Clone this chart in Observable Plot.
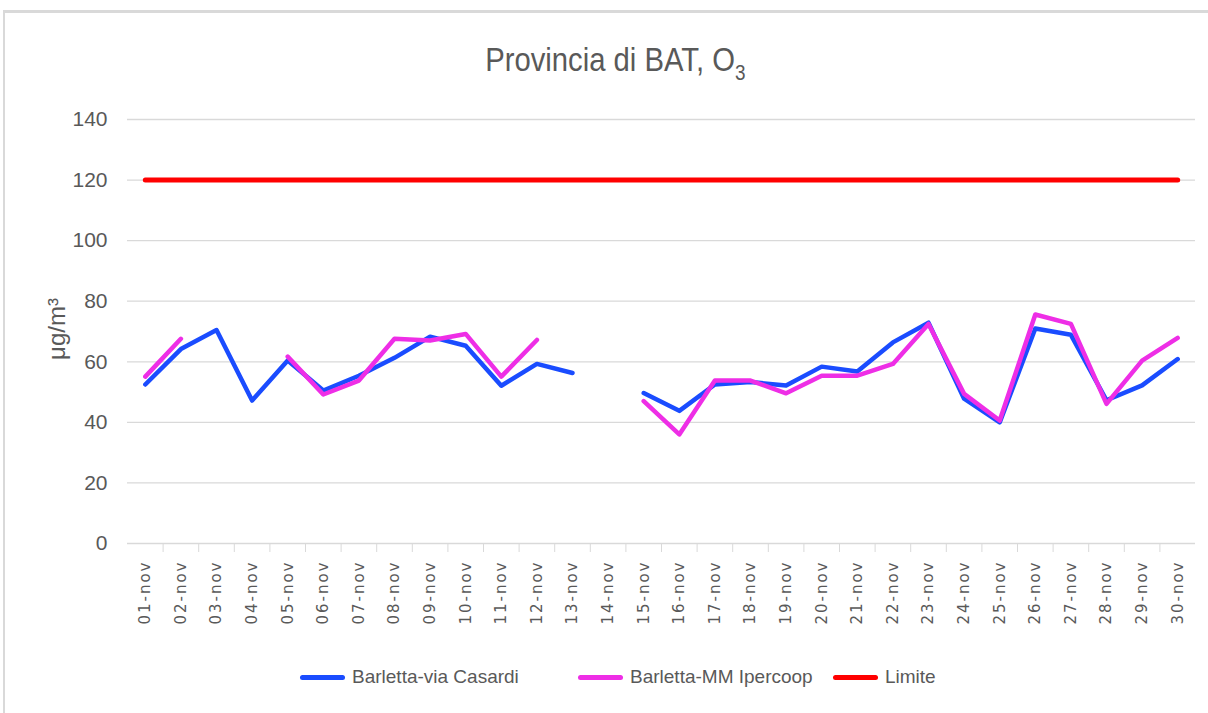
<!DOCTYPE html>
<html>
<head>
<meta charset="utf-8">
<script src="https://cdn.jsdelivr.net/npm/d3@7"></script>
<script src="https://cdn.jsdelivr.net/npm/@observablehq/plot@0.6"></script>
<style>
  html, body { margin: 0; padding: 0; background: #fff; }
  body { width: 1208px; height: 713px; position: relative; overflow: hidden; font-family: "Liberation Sans", sans-serif; }
  #frame { position: absolute; left: 3px; top: 10px; width: 1220px; height: 720px; border-left: 2px solid #d9d9d9; border-top: 3px solid #d9d9d9; box-sizing: border-box; }
  #titlewrap { position: absolute; left: 11px; width: 1208px; top: 40px; text-align: center; }
  #title { display: inline-block; font-size: 34px; color: #595959; transform: scaleX(0.86); transform-origin: center; }
  #title sub { font-size: 22px; vertical-align: -9px; }
  #chart { position: absolute; left: 0; top: 100px; }
  #ylabel { position: absolute; left: 57px; top: 329px; transform: translate(-50%, -50%) rotate(-90deg); font-size: 24px; color: #595959; white-space: nowrap; }
  #legend { position: absolute; top: 664px; left: 0; width: 1208px; height: 26px; font-size: 19px; color: #595959; }
  .item { position: absolute; top: 0; display: flex; align-items: center; height: 26px; }
  .sw { width: 45px; height: 5px; border-radius: 3px; margin-right: 7px; }
  g[aria-label="x-axis tick label"] text { letter-spacing: 2px; }
</style>
</head>
<body>
<div id="frame"></div>
<div id="titlewrap"><span id="title">Provincia di BAT, O<sub>3</sub></span></div>
<div id="chart"></div>
<div id="ylabel">μg/m³</div>
<div id="legend"></div>
<script>
const labels = ["01-nov","02-nov","03-nov","04-nov","05-nov","06-nov","07-nov","08-nov","09-nov","10-nov",
  "11-nov","12-nov","13-nov","14-nov","15-nov","16-nov","17-nov","18-nov","19-nov","20-nov",
  "21-nov","22-nov","23-nov","24-nov","25-nov","26-nov","27-nov","28-nov","29-nov","30-nov"];
const casardi = [52.5, 64.2, 70.5, 47.2, 60.4, 50.5, 55.4, 61.3, 68.3, 65.3,
  52.1, 59.3, 56.3, null, 49.7, 43.8, 52.5, 53.3, 52.2, 58.4,
  56.8, 66.4, 72.9, 47.8, 40.0, 71.0, 68.9, 47.3, 52.2, 60.9];
const ipercoop = [55.1, 67.6, null, null, 61.7, 49.2, 53.8, 67.6, 67.0, 69.2,
  55.1, 67.2, null, null, 47.0, 36.0, 53.8, 53.8, 49.6, 55.4,
  55.4, 59.3, 72.5, 49.4, 40.6, 75.6, 72.5, 46.1, 60.4, 67.9];
const limite = labels.map(() => 120);
const yTicks = [0, 20, 40, 60, 80, 100, 120, 140];
const seriesNames = ["Barletta-via Casardi", "Barletta-MM Ipercoop", "Limite"];
const seriesColors = ["#1a4cff", "#ee2ee6", "#ff0000"];

const days = labels.map((_, i) => i + 1);
const boundaries = days.slice(0, -1).map(d => d + 0.5);

const chart = Plot.plot({
  width: 1208,
  height: 560,
  marginTop: 19,
  marginBottom: 117,
  marginLeft: 127,
  marginRight: 13,
  style: { fontFamily: "Liberation Sans", fontSize: "21px", color: "#595959", background: "transparent" },
  x: { type: "linear", domain: [0.5, labels.length + 0.5], axis: null },
  y: { domain: [0, 140], axis: null },
  marks: [
    Plot.ruleY(yTicks, { stroke: "#d9d9d9", strokeWidth: 1.3 }),
    Plot.axisY({ ticks: yTicks, tickSize: 0, tickPadding: 20, fill: "#595959", label: null }),
    Plot.axisX({ ticks: boundaries, tickSize: 9, tickFormat: () => "", stroke: "#d9d9d9", label: null }),
    Plot.axisX({ ticks: days, tickSize: 0, tickPadding: 17, tickRotate: -90, tickFormat: d => labels[d - 1],
      fontFamily: "DejaVu Sans", fontSize: 15, fill: "#595959", label: null }),
    Plot.line(days, { x: d => d, y: (d, i) => limite[i], stroke: seriesColors[2], strokeWidth: 5 }),
    Plot.line(days, { x: d => d, y: (d, i) => casardi[i], stroke: seriesColors[0], strokeWidth: 4.5, strokeLinejoin: "round", strokeLinecap: "round" }),
    Plot.line(days, { x: d => d, y: (d, i) => ipercoop[i], stroke: seriesColors[1], strokeWidth: 4.5, strokeLinejoin: "round", strokeLinecap: "round" })
  ]
});
document.getElementById("chart").appendChild(chart);

const legend = document.getElementById("legend");
const lefts = [300, 578, 833];
seriesNames.forEach((name, i) => {
  const it = document.createElement("div");
  it.className = "item";
  it.style.left = lefts[i] + "px";
  it.innerHTML = `<div class="sw" style="background:${seriesColors[i]}"></div><span>${name}</span>`;
  legend.appendChild(it);
});
</script>
</body>
</html>
